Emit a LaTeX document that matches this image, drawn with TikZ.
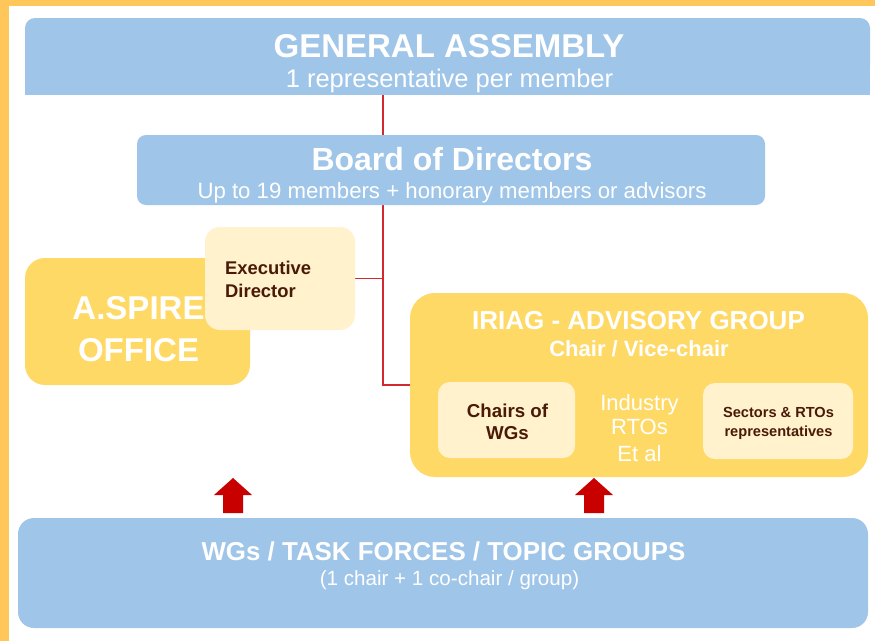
\documentclass[tikz,border=0pt]{standalone}
\usepackage{fontspec}
\setmainfont{Liberation Sans}
\usetikzlibrary{calc}
\definecolor{boxblue}{HTML}{9FC5E8}
\definecolor{boxyellow}{HTML}{FFD966}
\definecolor{boxlight}{HTML}{FFF2CC}
\definecolor{frameyellow}{HTML}{FFC65A}
\definecolor{darktext}{HTML}{4A1A08}
\definecolor{linered}{HTML}{D02A30}
\definecolor{arrowred}{HTML}{C80000}
\newcommand{\fsz}[1]{\fontsize{#1}{#1}\selectfont}
\begin{document}
\begin{tikzpicture}[x=1pt,y=-1pt,
  boxshape/.style={rectangle,inner sep=0pt,outer sep=0pt,draw=none},
  wtxt/.style={inner sep=0pt,anchor=base,text=white},
  dtxt/.style={inner sep=0pt,anchor=base,text=darktext},
  conn/.style={draw=linered,line width=1.1pt},
  blockarrow/.style={fill=arrowred,draw=none}
]
\useasboundingbox (0,0) rectangle (875,641);
\fill[white] (0,0) rectangle (875,641);
\fill[frameyellow] (0,0) rectangle (9,641);
\fill[frameyellow] (0,0) rectangle (875,6);

% box nodes (geometry only)
\node[boxshape,minimum width=845pt,minimum height=77pt] (ga) at (447.5,56.5) {};
\node[boxshape,minimum width=628pt,minimum height=70pt] (bd) at (451,170) {};
\node[boxshape,minimum width=225pt,minimum height=127pt] (of) at (137.5,321.5) {};
\node[boxshape,minimum width=150pt,minimum height=103pt] (ed) at (280,278.5) {};
\node[boxshape,minimum width=458pt,minimum height=184pt] (ir) at (639,385) {};
\node[boxshape,minimum width=137pt,minimum height=76pt] (cw) at (506.5,420) {};
\node[boxshape,minimum width=150pt,minimum height=76pt] (sr) at (778,421) {};
\node[boxshape,minimum width=850pt,minimum height=110pt] (wg) at (443,573) {};
\coordinate (trunk) at (383,0);

% connectors
\draw[conn] (trunk |- ga.south) -- (trunk |- bd.north);
\draw[conn] (trunk |- bd.south) |- (ir.west);
\draw[conn] (ed.east) -- (ed.east -| trunk);

% fills
\fill[boxblue,rounded corners=10pt] (ga.north west) rectangle ($(ga.south east)+(0,-20)$);
\fill[boxblue] (ga.west) rectangle (ga.south east);
\fill[boxblue,rounded corners=9pt] (bd.north west) rectangle (bd.south east);
\fill[boxyellow,rounded corners=20pt] (of.north west) rectangle (of.south east);
\fill[boxyellow,rounded corners=25pt] (ir.north west) rectangle (ir.south east);
\fill[boxlight,rounded corners=12pt] (cw.north west) rectangle (cw.south east);
\fill[boxlight,rounded corners=12pt] (sr.north west) rectangle (sr.south east);
\fill[boxblue,rounded corners=16pt] (wg.north west) rectangle (wg.south east);

% texts
\node[wtxt,font=\bfseries\fsz{33}] (gat) at (449,57) {GENERAL ASSEMBLY};
\node[wtxt,font=\fsz{25.5}] (gas) at (449.5,87) {1 representative per member};
\node[wtxt,font=\bfseries\fsz{32}] (bdt) at (452,170) {Board of Directors};
\node[wtxt,font=\fsz{22.2}] (bds) at (452,198) {Up to 19 members + honorary members or advisors};
\node[wtxt,font=\bfseries\fsz{33}] (of1) at (138.5,319) {A.SPIRE};
\node[wtxt,font=\bfseries\fsz{33}] (of2) at (138.5,361) {OFFICE};

\fill[boxlight,rounded corners=15pt] (ed.north west) rectangle (ed.south east);
\node[dtxt,font=\bfseries\fsz{18.4},anchor=base west] (ed1) at (225,274) {Executive};
\node[dtxt,font=\bfseries\fsz{18.4},anchor=base west] (ed2) at (225,297) {Director};

\node[wtxt,font=\bfseries\fsz{26}] (irt) at (638.5,329) {IRIAG - ADVISORY GROUP};
\node[wtxt,font=\bfseries\fsz{22}] (irs) at (639,356) {Chair / Vice-chair};
\node[dtxt,font=\bfseries\fsz{18.7}] (cw1) at (507.5,417) {Chairs of};
\node[dtxt,font=\bfseries\fsz{18.7}] (cw2) at (507.5,439) {WGs};
\node[wtxt,font=\fsz{22}] (in1) at (639.5,410) {Industry};
\node[wtxt,font=\fsz{22}] (in2) at (639.5,434) {RTOs};
\node[wtxt,font=\fsz{22}] (in3) at (639.5,461) {Et al};
\node[dtxt,font=\bfseries\fsz{14.6}] (sr1) at (778.5,417) {Sectors \& RTOs};
\node[dtxt,font=\bfseries\fsz{14.6}] (sr2) at (778.5,436) {representatives};

\node[wtxt,font=\bfseries\fsz{25.9}] (wgt) at (443.5,560) {WGs / TASK FORCES / TOPIC GROUPS};
\node[wtxt,font=\fsz{20.6}] (wgs) at (449.5,585) {(1 chair + 1 co-chair / group)};

% block arrows
\coordinate (a1) at (233,513);
\coordinate (a2) at (594,513);
\foreach \a in {a1,a2}{
  \fill[blockarrow] ($(\a)+(-10,0)$) -- ++(0,-18) -- ++(-9,0) -- ($(\a)+(0,-35)$)
    -- ($(\a)+(19,-18)$) -- ++(-9,0) -- ($(\a)+(10,0)$) -- cycle;
}
\end{tikzpicture}
\end{document}
